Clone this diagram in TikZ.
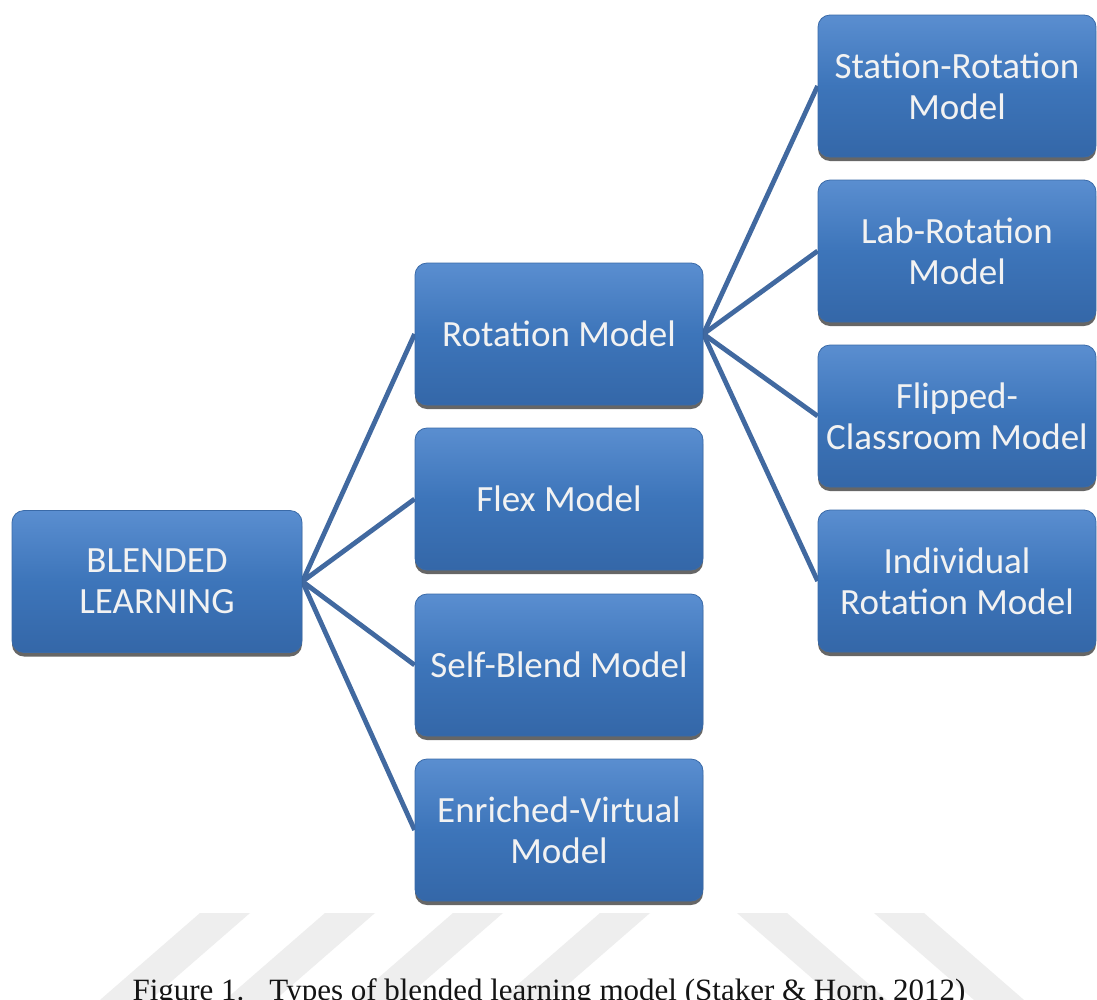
\documentclass[tikz,border=0pt]{standalone}
\usepackage{fontspec}
\setmainfont{Liberation Serif}
\newfontfamily\boxfont{Carlito}
\usetikzlibrary{shadows,backgrounds}

\definecolor{boxtop}{HTML}{5A8ED0}
\definecolor{boxmid}{HTML}{3D75BA}
\definecolor{boxbot}{HTML}{3467A8}
\definecolor{boxrim}{HTML}{3A6AA8}
\definecolor{linkblue}{HTML}{4169A0}
\definecolor{stripe}{HTML}{EEEEEE}

\tikzset{
  modelbox/.style={rectangle, rounded corners=12pt, minimum height=142pt,
    minimum width=288pt, inner sep=0pt,
    top color=boxtop, bottom color=boxbot, middle color=boxmid,
    draw=boxrim, line width=0.8pt,
    text=white!95!black, align=center,
    font=\boxfont\fontsize{37}{41}\selectfont,
    drop shadow={shadow xshift=0pt, shadow yshift=-4pt, opacity=0.6, fill=black}},
  narrowbox/.style={modelbox, minimum width=278pt},
  link/.style={draw=linkblue, line width=4.8pt},
  caption/.style={font=\fontsize{31}{34}\selectfont, text=black!92, inner sep=0pt},
}

\begin{document}
\begin{tikzpicture}[x=1pt, y=-1pt]
  \useasboundingbox (0,0) rectangle (1097,999);

  % root
  \node[modelbox, minimum width=290pt] (bl) at (157,581.5) {BLENDED\\LEARNING};

  % first level
  \node[modelbox] (rot)  at (559,334) {Rotation Model};
  \node[modelbox] (flex) at (559,499) {Flex Model};
  \node[modelbox] (self) at (559,665) {Self-Blend Model};
  \node[modelbox] (env)  at (559,830) {Enriched-Virtual\\Model};

  % rotation sub-models
  \node[narrowbox] (sr) at (957,86)  {Station-Rotation\\Model};
  \node[narrowbox] (lr) at (957,251) {Lab-Rotation\\Model};
  \node[narrowbox] (fc) at (957,416) {Flipped-\\Classroom Model};
  \node[narrowbox] (ir) at (957,581) {Individual\\Rotation Model};

  \begin{pgfonlayer}{background}
    % page area
    \fill[white] (0,0) rectangle (1097,999);
    % faint diagonal stripes showing below the diagram
    \begin{scope}
      \clip (0,913) rectangle (1097,999);
      \foreach \a in {200,325,453,600}
        \fill[stripe] (\a,913) -- ++(50,0) -- ++(-115,100) -- ++(-50,0) -- cycle;
      \foreach \a in {737,874}
        \fill[stripe] (\a,913) -- ++(50,0) -- ++(115,100) -- ++(-50,0) -- cycle;
    \end{scope}
    % connectors
    \foreach \c in {rot,flex,self,env}
      \draw[link] (bl.east) -- (\c.west);
    \foreach \c in {sr,lr,fc,ir}
      \draw[link] (rot.east) -- (\c.west);
  \end{pgfonlayer}

  % caption
  \node[caption, anchor=base] (cap) at (549,1000)
    {Figure 1.\hspace{25pt}Types of blended learning model (Staker \& Horn, 2012)};
\end{tikzpicture}
\end{document}
